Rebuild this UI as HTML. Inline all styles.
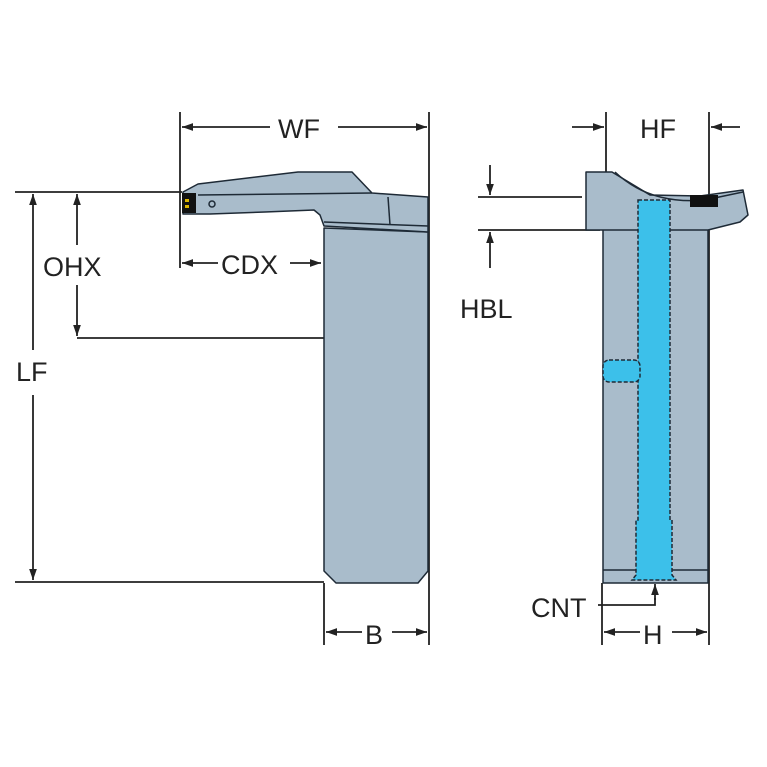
<!DOCTYPE html>
<html><head><style>body{margin:0;background:#fff}svg{display:block}text{font-family:"Liberation Sans",sans-serif;font-size:27px;fill:#222}</style></head>
<body>
<svg width="767" height="767" viewBox="0 0 767 767">
<defs>
<marker id="a" viewBox="0 0 10 10" refX="10" refY="5" markerWidth="13" markerHeight="11" orient="auto-start-reverse" markerUnits="userSpaceOnUse"><path d="M0,1.5 L10,5 L0,8.5z" fill="#222"/></marker>
</defs>
<g stroke="#222" stroke-width="1.8" fill="none">
<line x1="180" y1="112" x2="180" y2="268"/><line x1="429" y1="112" x2="429" y2="645"/>
<line x1="182" y1="127" x2="270" y2="127" marker-start="url(#a)"/><line x1="338" y1="127" x2="427" y2="127" marker-end="url(#a)"/>
<line x1="15" y1="192" x2="182" y2="192"/><line x1="15" y1="582" x2="324" y2="582"/>
<line x1="33" y1="194" x2="33" y2="350" marker-start="url(#a)"/><line x1="33" y1="395" x2="33" y2="580" marker-end="url(#a)"/>
<line x1="77" y1="194" x2="77" y2="245" marker-start="url(#a)"/><line x1="77" y1="285" x2="77" y2="336" marker-end="url(#a)"/>
<line x1="77" y1="338" x2="324" y2="338"/>
<line x1="182" y1="263" x2="218" y2="263" marker-start="url(#a)"/><line x1="290" y1="263" x2="321" y2="263" marker-end="url(#a)"/>
<line x1="324" y1="583" x2="324" y2="645"/>
<line x1="326" y1="632" x2="362" y2="632" marker-start="url(#a)"/><line x1="392" y1="632" x2="427" y2="632" marker-end="url(#a)"/>
<line x1="606" y1="112" x2="606" y2="172"/><line x1="709" y1="112" x2="709" y2="645"/>
<line x1="572" y1="127" x2="604" y2="127" marker-end="url(#a)"/><line x1="740" y1="127" x2="711" y2="127" marker-end="url(#a)"/>
<line x1="478" y1="197" x2="582" y2="197"/><line x1="478" y1="230" x2="600" y2="230"/>
<line x1="490" y1="165" x2="490" y2="195" marker-end="url(#a)"/><line x1="490" y1="268" x2="490" y2="232" marker-end="url(#a)"/>
<line x1="602" y1="583" x2="602" y2="645"/>
<line x1="604" y1="632" x2="640" y2="632" marker-start="url(#a)"/><line x1="672" y1="632" x2="707" y2="632" marker-end="url(#a)"/>
<polyline points="598,605 655,605 655,598" /><line x1="655" y1="600" x2="655" y2="584" marker-end="url(#a)"/>
</g>
<g stroke="#1e2a36" stroke-width="1.5" fill="#a9bccb" stroke-linejoin="round">
<polygon points="324,228 428,232 428,571 418,583 336,583 324,571"/>
<polygon points="183,192 198,184 298,172 352,172 372,193 428,197 428,232 324,226 320,215 314,210 265,212 210,214 183,214"/>
<line x1="198" y1="195" x2="372" y2="193"/>
<line x1="324" y1="222" x2="428" y2="226"/>
<line x1="388" y1="197" x2="390" y2="225"/>
<rect x="182" y="193" width="14" height="20" fill="#111" stroke="none"/>
<circle cx="212" cy="204" r="3" fill="none"/>
</g>
<rect x="185" y="199" width="4" height="3" fill="#d9b400"/><rect x="185" y="205" width="4" height="3" fill="#d9b400"/>
<g stroke="#1e2a36" stroke-width="1.5" fill="#a9bccb" stroke-linejoin="round">
<rect x="603" y="228" width="105" height="355"/>
<line x1="603" y1="570" x2="708" y2="570"/>
<polygon points="586,172 612,172 650,195 700,196 743,190 748,215 740,222 708,230 603,230 586,230"/>
<path d="M615,172 Q650,205 705,200 L743,192" fill="none"/>
</g>
<rect x="690" y="195" width="28" height="12" fill="#111"/>
<g fill="#3cc0ea" stroke="#1e2a36" stroke-width="1.5" stroke-dasharray="4,2">
<path d="M638,200 L670,200 L670,520 L672,520 L672,575 L676,580 L632,580 L636,575 L636,520 L638,520Z"/>
<rect x="603" y="360" width="37" height="22" rx="6"/>
</g>
<text x="278" y="138">WF</text>
<text x="221" y="274">CDX</text>
<text x="43" y="276">OHX</text>
<text x="16" y="381">LF</text>
<text x="365" y="644">B</text>
<text x="640" y="138">HF</text>
<text x="460" y="318">HBL</text>
<text x="531" y="617">CNT</text>
<text x="643" y="644">H</text>
</svg>
</body></html>
